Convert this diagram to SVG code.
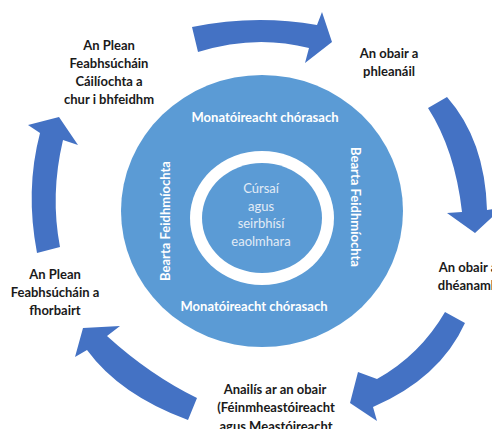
<svg xmlns="http://www.w3.org/2000/svg" width="492" height="429" viewBox="0 0 492 429">
<style>
.lbl{font-family:Lato,"Open Sans","Liberation Sans",sans-serif;font-weight:bold;font-size:13px;fill:#1a1a1a;text-anchor:middle}
.wt{font-family:Lato,"Open Sans","Liberation Sans",sans-serif;font-weight:bold;font-size:13px;fill:#ffffff;text-anchor:middle}
.ct{font-family:Lato,"Open Sans","Liberation Sans",sans-serif;font-size:13px;fill:#e2ebf6;text-anchor:middle}
.arr{fill:#4472C4}
</style>
<rect width="492" height="429" fill="#ffffff"/>
<g id="hub">
<ellipse cx="262" cy="211" rx="141" ry="136" fill="#5B9BD5"/>
<ellipse cx="262" cy="218" rx="72" ry="67" fill="#ffffff"/>
<ellipse cx="262" cy="218" rx="60" ry="55" fill="#5B9BD5"/>
<text class="wt" x="265" y="122">Monatóireacht chórasach</text>
<text class="wt" x="254" y="311">Monatóireacht chórasach</text>
<text class="wt" transform="translate(170,221) rotate(-90)">Bearta Feidhmíochta</text>
<text class="wt" transform="translate(351,207) rotate(90)">Bearta Feidhmíochta</text>
<text class="ct" x="261" y="193">Cúrsaí</text>
<text class="ct" x="261" y="211">agus</text>
<text class="ct" x="261" y="228">seirbhísí</text>
<text class="ct" x="261" y="246">eaolmhara</text>
</g>
<g id="connectors">
<path class="arr" d="M192,27 Q255,14 317,25 L322,12 L332,42 L305,63 L309,48 Q255,34 198,52 Z"/>
<path class="arr" d="M428,108 Q455,150 462,212 L447,213 L475,233 L502,208 L487,210 Q485,140 447,97 Z"/>
<path class="arr" d="M445,312 Q420,355 377,379 L358,372 L350,403 L377,421 L373,407 Q440,378 465,323 Z"/>
<path class="arr" d="M197,398 Q150,375 107,336 L120,326 L83,328 L75,357 L87,350 Q120,395 188,420 Z"/>
<path class="arr" d="M37,253 Q25,190 40,133 L28,125 L59,117 L78,145 L63,140 Q50,195 60,247 Z"/>
</g>
<g id="node-implement">
<text class="lbl" x="109" y="50">An Plean</text>
<text class="lbl" x="109" y="68">Feabhsúcháin</text>
<text class="lbl" x="109" y="86">Cáilíochta a</text>
<text class="lbl" x="109" y="104">chur i bhfeidhm</text>
</g>
<g id="node-plan">
<text class="lbl" x="389" y="58">An obair a</text>
<text class="lbl" x="389" y="76">phleanáil</text>
</g>
<g id="node-do">
<text class="lbl" x="468" y="272">An obair a</text>
<text class="lbl" x="468" y="290">dhéanamh</text>
</g>
<g id="node-analyse">
<text class="lbl" x="275" y="394">Anailís ar an obair</text>
<text class="lbl" x="276" y="412">(Féinmheastóireacht</text>
<text class="lbl" x="276" y="431">agus Meastóireacht</text>
</g>
<g id="node-develop">
<text class="lbl" x="55" y="279">An Plean</text>
<text class="lbl" x="55" y="297">Feabhsúcháin a</text>
<text class="lbl" x="55" y="315">fhorbairt</text>
</g>
</svg>
